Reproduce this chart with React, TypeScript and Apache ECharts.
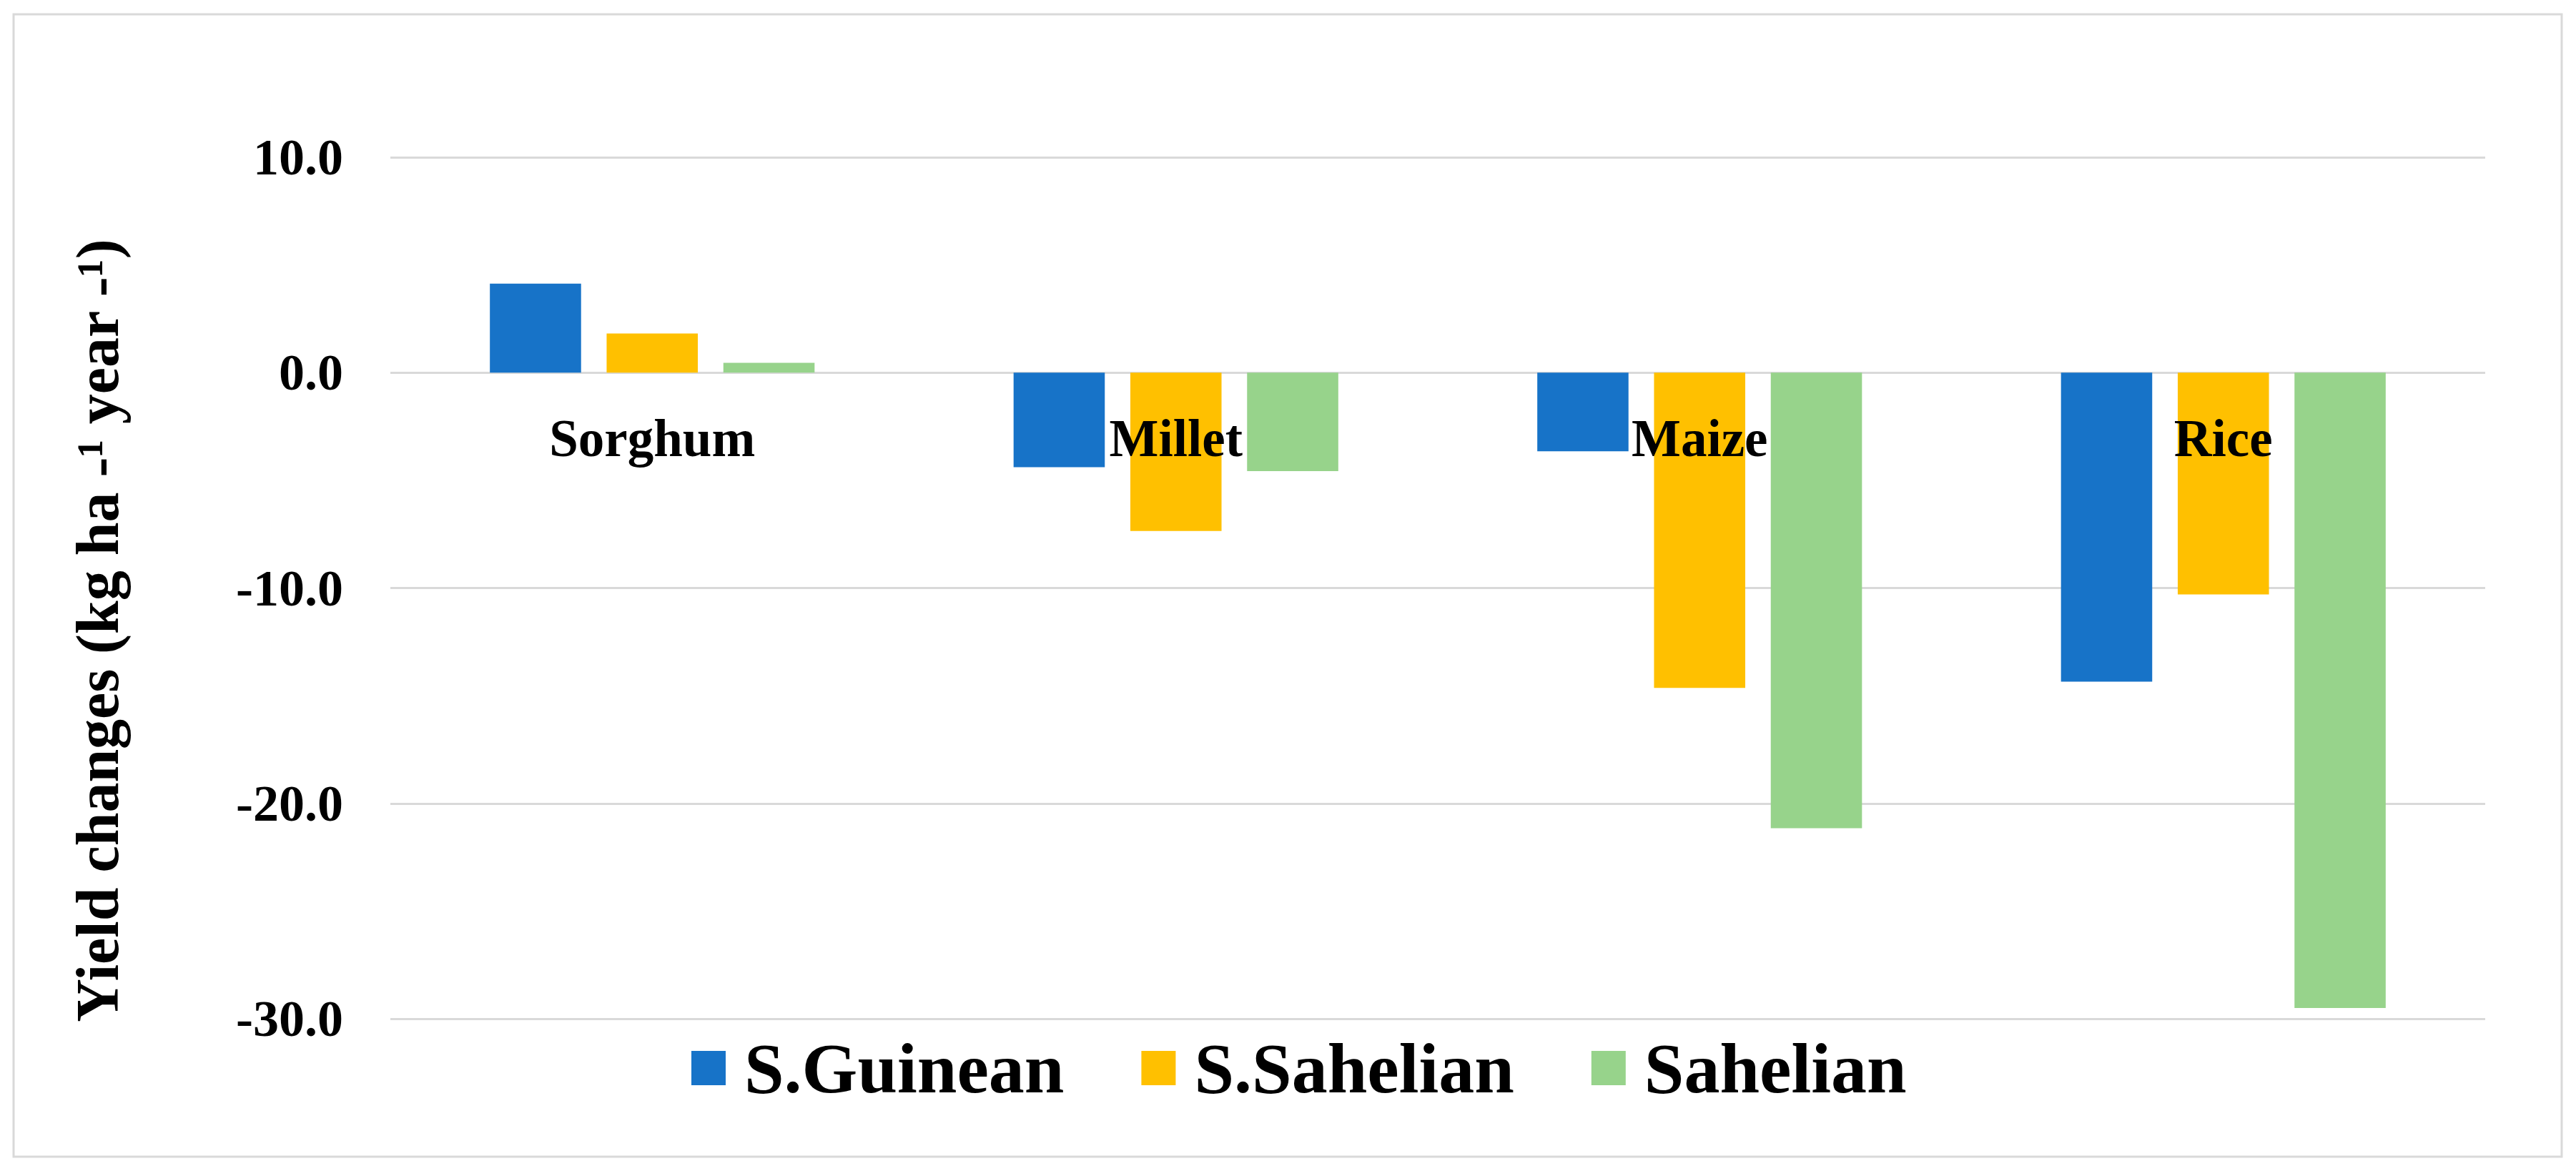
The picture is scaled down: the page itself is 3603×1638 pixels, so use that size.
import React, { useEffect, useRef } from "react";
import * as echarts from "echarts";

const categories = ["Sorghum", "Millet", "Maize", "Rice"];
const seriesNames = ["S.Guinean", "S.Sahelian", "Sahelian"];
const sGuinean = [4.13, -4.39, -3.65, -14.35];
const sSahelian = [1.82, -7.35, -14.64, -10.3];
const sahelian = [0.46, -4.57, -21.15, -29.5];
const colors = ["#1773C8", "#FFC000", "#97D38B"];
const yTitle = "Yield changes (kg ha -\u00B9 year -\u00B9)";

const FONT = "'Liberation Serif', 'Times New Roman', serif";

export default function App() {
  const ref = useRef<HTMLDivElement>(null);
  useEffect(() => {
    if (!ref.current) return;
    const chart = echarts.init(ref.current, undefined, { renderer: "svg" });
    const values = [sGuinean, sSahelian, sahelian];
    const barSeries = seriesNames.map((name, i) => ({
      name,
      type: "bar",
      data: values[i],
      barGap: "28%",
      barCategoryGap: "38%",
      itemStyle: { color: colors[i] },
    }));
    const labelSeries = {
      name: "categoryLabels",
      type: "scatter",
      silent: true,
      z: 10,
      symbolSize: 1,
      itemStyle: { color: "rgba(255,255,255,0)", opacity: 1 },
      data: categories.map((c) => ({ name: c, value: [c, 0] })),
      label: {
        show: true,
        position: "bottom",
        distance: 55,
        formatter: "{b}",
        fontFamily: FONT,
        fontWeight: "bold",
        fontSize: 73,
        color: "#000000",
        opacity: 1,
        textBorderWidth: 0,
      },
    };
    chart.setOption({
      animation: false,
      backgroundColor: "#ffffff",
      grid: { left: 546, right: 127, top: 220, bottom: 213 },
      legend: {
        left: 962,
        top: 1439,
        itemWidth: 48,
        itemHeight: 48,
        itemGap: 108,
        icon: "rect",
        data: seriesNames,
        textStyle: {
          fontFamily: FONT,
          fontWeight: "bold",
          fontSize: 100,
          color: "#000",
          padding: [0, 0, 0, 21],
        },
      },
      xAxis: {
        type: "category",
        data: categories,
        axisTick: { show: false },
        axisLine: { show: false },
        axisLabel: { show: false },
      },
      yAxis: {
        type: "value",
        min: -30,
        max: 10,
        interval: 10,
        axisLine: { show: false },
        axisTick: { show: false },
        splitLine: { show: true, lineStyle: { color: "#d9d9d9", width: 3 } },
        axisLabel: {
          margin: 66,
          fontFamily: FONT,
          fontWeight: "bold",
          fontSize: 72,
          color: "#000",
          formatter: (v: number) => v.toFixed(1),
        },
      },
      series: [...barSeries, labelSeries],
      graphic: [
        {
          type: "rect",
          shape: { x: 19, y: 20, width: 3564, height: 1598 },
          style: { fill: "none", stroke: "#d9d9d9", lineWidth: 3 },
          silent: true,
        },
        {
          type: "text",
          x: 136,
          y: 882,
          rotation: Math.PI / 2,
          style: {
            text: yTitle,
            fontFamily: FONT,
            fontWeight: "bold",
            fontSize: 84,
            fill: "#000",
            align: "center",
            verticalAlign: "middle",
          },
        },
      ],
    });
    return () => chart.dispose();
  }, []);
  return (
    <div
      ref={ref}
      style={{ position: "fixed", left: 0, top: 0, width: 3603, height: 1638 }}
    />
  );
}
